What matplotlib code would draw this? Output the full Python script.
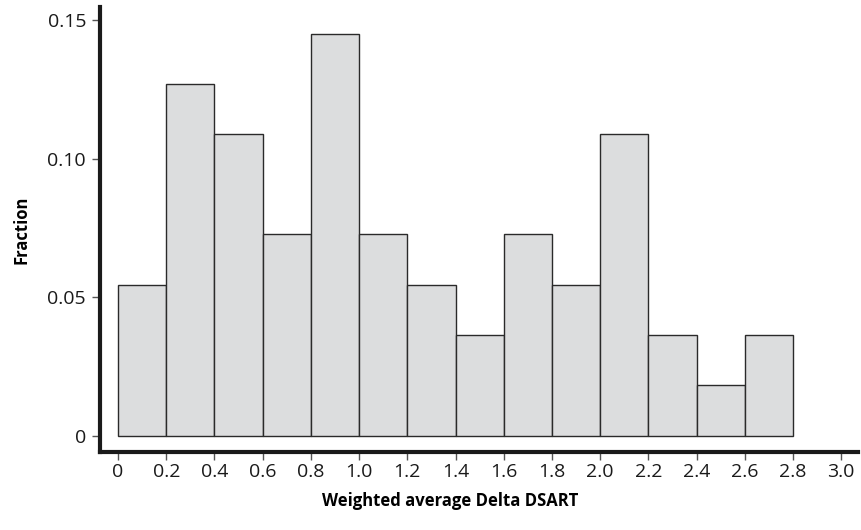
"""Histogram of weighted average Delta DSART."""

import matplotlib

matplotlib.use("Agg")
import matplotlib.pyplot as plt

bin_edges = [0.0, 0.2, 0.4, 0.6, 0.8, 1.0, 1.2, 1.4, 1.6, 1.8, 2.0, 2.2, 2.4, 2.6, 2.8]
fractions = [0.0545, 0.127, 0.109, 0.0727, 0.145, 0.0727, 0.0545,
             0.0364, 0.0727, 0.0545, 0.109, 0.0364, 0.0182, 0.0364]
x_ticks = [0, 0.2, 0.4, 0.6, 0.8, 1.0, 1.2, 1.4, 1.6, 1.8, 2.0, 2.2, 2.4, 2.6, 2.8, 3.0]
x_tick_labels = ["0", "0.2", "0.4", "0.6", "0.8", "1.0", "1.2", "1.4", "1.6",
                 "1.8", "2.0", "2.2", "2.4", "2.6", "2.8", "3.0"]
y_ticks = [0, 0.05, 0.10, 0.15]
y_tick_labels = ["0", "0.05", "0.10", "0.15"]

plt.rcParams["font.family"] = ["Open Sans", "DejaVu Sans"]

fig = plt.figure(figsize=(8.61, 5.30), dpi=100)
ax = fig.add_axes([100 / 861, 78 / 530, 758 / 861, 445 / 530])

ax.bar(bin_edges[:-1], fractions, width=0.2, align="edge",
       color="#dcddde", edgecolor="#2a2a2a", linewidth=1.0)

ax.set_xlim(-0.075, 3.07)
ax.set_ylim(-0.0058, 0.1547)

ax.set_xticks(x_ticks)
ax.set_xticklabels(x_tick_labels)
ax.set_yticks(y_ticks)
ax.set_yticklabels(y_tick_labels)

for side in ("top", "right"):
    ax.spines[side].set_visible(False)
for side in ("left", "bottom"):
    ax.spines[side].set_linewidth(3)
    ax.spines[side].set_color("#1a1a1a")

ax.tick_params(axis="both", direction="out", length=6, width=1,
               color="#555555", labelsize=14, labelcolor="#1a1a1a")
ax.tick_params(axis="x", pad=2)
ax.tick_params(axis="y", pad=4)

ax.set_xlabel("Weighted average Delta DSART", fontsize=12, fontweight="bold")
ax.xaxis.set_label_coords(0.462, -0.09)
ax.set_ylabel("Fraction", fontsize=12, fontweight="bold", labelpad=12)

fig.savefig("out.png", dpi=100)
